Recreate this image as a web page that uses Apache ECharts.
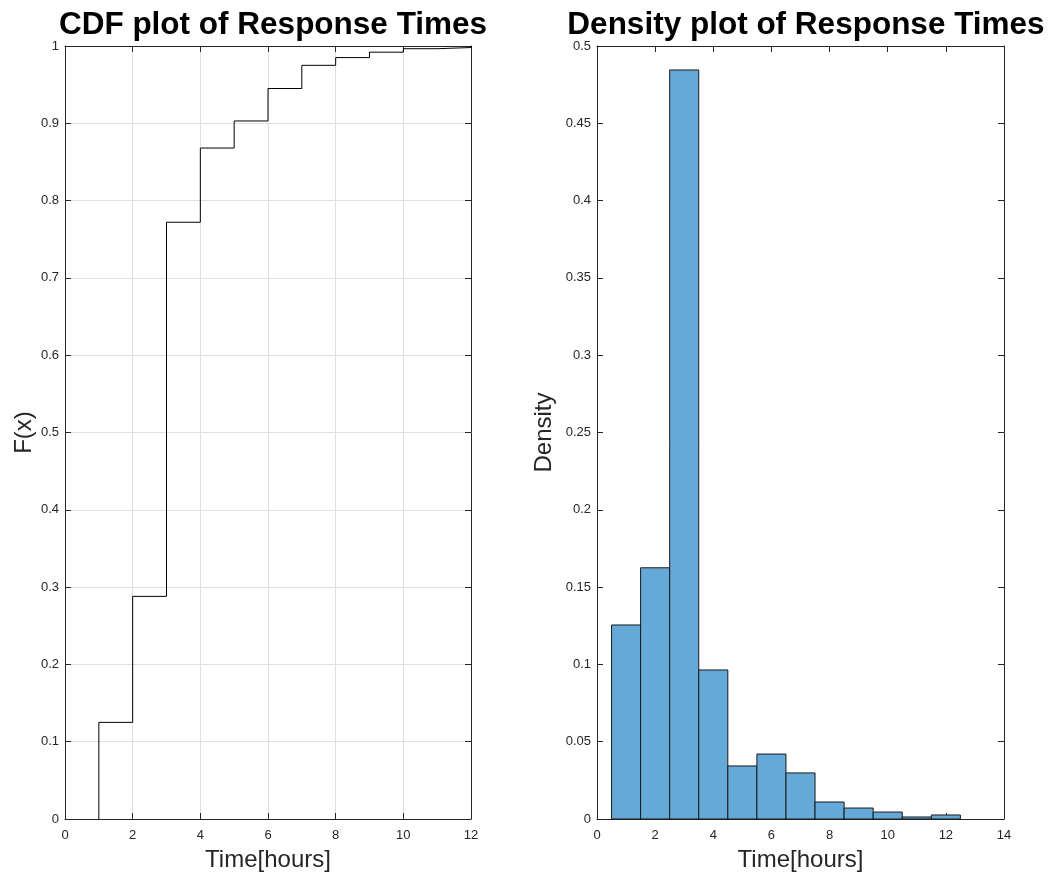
<!DOCTYPE html>
<html>
<head>
<meta charset="utf-8">
<script src="https://cdn.jsdelivr.net/npm/echarts@6/dist/echarts.min.js"></script>
<style>
  html, body { margin: 0; padding: 0; background: #fff; }
  #chart { width: 1049px; height: 881px; }
</style>
</head>
<body>
<div id="chart"></div>
<script>
// Empirical CDF of response times: jump locations (hours) and F(x) after each jump
const cdfX = [1, 2, 3, 4, 5, 6, 7, 8, 9, 10, 11, 12];
const cdfY = [0.125, 0.288, 0.772, 0.868, 0.903, 0.945, 0.975, 0.985, 0.992, 0.9965, 0.998, 1.0];

// Histogram (density) with unit-width bins centred on whole hours
const binCenters = [1, 2, 3, 4, 5, 6, 7, 8, 9, 10, 11, 12];
const density = [0.1255, 0.1625, 0.4845, 0.0964, 0.0343, 0.0420, 0.0298, 0.0110, 0.0071, 0.0045, 0.0013, 0.0026];
const binWidth = 1;

// Tick labels
const cdfYTicks = ['0', '0.1', '0.2', '0.3', '0.4', '0.5', '0.6', '0.7', '0.8', '0.9', '1'];
const densYTicks = ['0', '0.05', '0.1', '0.15', '0.2', '0.25', '0.3', '0.35', '0.4', '0.45', '0.5'];

const FONT = 'Liberation Sans, Arial, Helvetica, sans-serif';
const AX = '#262626';
const labelStyle = { color: AX, fontSize: 13, fontFamily: FONT };
const nameStyle = { fontFamily: FONT, fontSize: 24, color: AX };
const titleStyle = { fontFamily: FONT, fontSize: 31.5, fontWeight: 'bold', color: '#000' };

function boxAxis(gridIndex, position, opts) {
  return Object.assign({
    type: 'value',
    gridIndex: gridIndex,
    position: position,
    axisLine: { show: true, onZero: false, lineStyle: { color: AX, width: 1 } },
    axisTick: { show: true, inside: true, length: 6, lineStyle: { color: AX } },
    axisLabel: { show: false },
    splitLine: { show: false }
  }, opts);
}

const cdfLine = [[cdfX[0], 0]].concat(cdfX.map((x, i) => [x, cdfY[i]]));
const bars = binCenters.map((c, i) => [c - binWidth / 2, c + binWidth / 2, density[i]]);

const chart = echarts.init(document.getElementById('chart'), null, { renderer: 'canvas' });

chart.setOption({
  animation: false,
  backgroundColor: '#fff',
  title: [
    { text: 'CDF plot of Response Times', left: 268, top: 4, textAlign: 'center', textStyle: titleStyle },
    { text: 'Density plot of Response Times', left: 801, top: 4, textAlign: 'center', textStyle: titleStyle }
  ],
  grid: [
    { left: 65, right: 578, top: 46, bottom: 62, containLabel: false },
    { left: 597, right: 45, top: 46, bottom: 62, containLabel: false }
  ],
  xAxis: [
    boxAxis(0, 'bottom', {
      min: 0, max: 12, interval: 2,
      axisLabel: Object.assign({ show: true, margin: 10 }, labelStyle),
      splitLine: { show: true, lineStyle: { color: '#dfdfdf', width: 1 } },
      name: 'Time[hours]', nameLocation: 'middle', nameGap: 29, nameTextStyle: nameStyle
    }),
    boxAxis(0, 'top', { min: 0, max: 12, interval: 2 }),
    boxAxis(1, 'bottom', {
      min: 0, max: 14, interval: 2,
      axisLabel: Object.assign({ show: true, margin: 10 }, labelStyle),
      name: 'Time[hours]', nameLocation: 'middle', nameGap: 29, nameTextStyle: nameStyle
    }),
    boxAxis(1, 'top', { min: 0, max: 14, interval: 2 })
  ],
  yAxis: [
    boxAxis(0, 'left', {
      min: 0, max: 1, interval: 0.1,
      axisLabel: Object.assign({ show: true, margin: 6,
        formatter: (v) => cdfYTicks[Math.round(v * 10)] }, labelStyle),
      splitLine: { show: true, lineStyle: { color: '#dfdfdf', width: 1 } },
      name: 'F(x)', nameLocation: 'middle', nameGap: 29, nameTextStyle: nameStyle
    }),
    boxAxis(0, 'right', { min: 0, max: 1, interval: 0.1 }),
    boxAxis(1, 'left', {
      min: 0, max: 0.5, interval: 0.05,
      axisLabel: Object.assign({ show: true, margin: 6,
        formatter: (v) => densYTicks[Math.round(v * 20)] }, labelStyle),
      name: 'Density', nameLocation: 'middle', nameGap: 41, nameTextStyle: nameStyle
    }),
    boxAxis(1, 'right', { min: 0, max: 0.5, interval: 0.05 })
  ],
  series: [
    {
      type: 'line',
      xAxisIndex: 0, yAxisIndex: 0,
      data: cdfLine,
      step: 'end',
      showSymbol: false,
      lineStyle: { color: '#000', width: 1 },
      z: 5
    },
    {
      type: 'custom',
      xAxisIndex: 2, yAxisIndex: 2,
      data: bars,
      renderItem: function (params, api) {
        const p0 = api.coord([api.value(0), 0]);
        const p1 = api.coord([api.value(1), api.value(2)]);
        return {
          type: 'rect',
          shape: { x: p0[0], y: p1[1], width: p1[0] - p0[0], height: p0[1] - p1[1] },
          style: { fill: 'rgb(100,169,215)', stroke: '#1a1a1a', lineWidth: 1 }
        };
      },
      z: 5
    }
  ]
});
</script>
</body>
</html>
